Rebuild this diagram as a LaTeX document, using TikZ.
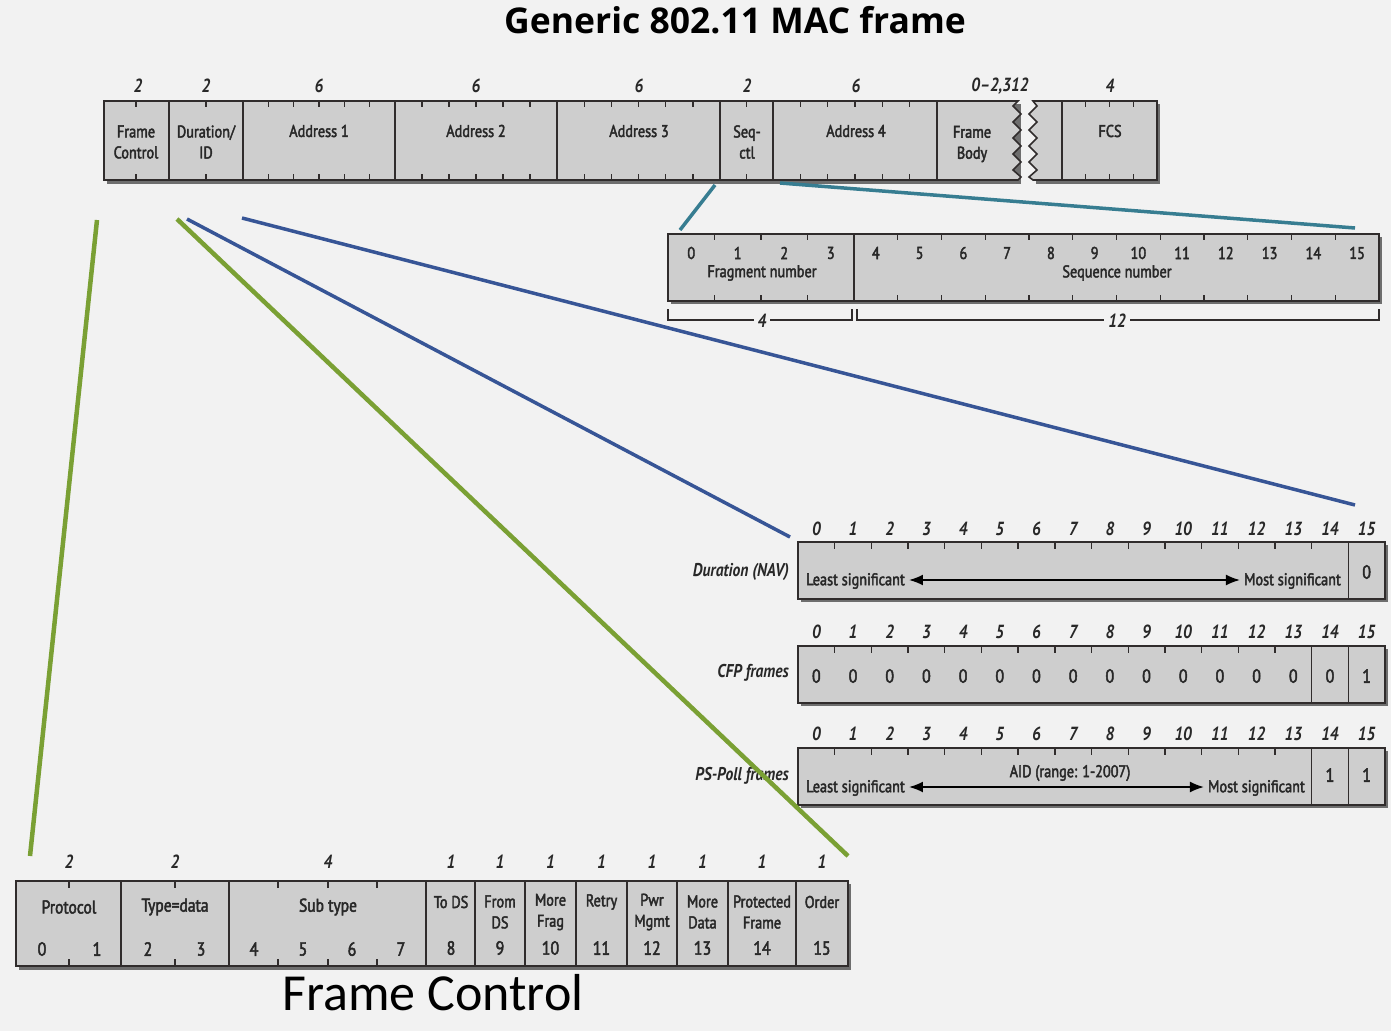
\documentclass[tikz,border=0pt]{standalone}
\usepackage{fontspec}
\usetikzlibrary{arrows.meta}
\newfontfamily\cond{PT Sans}[FakeStretch=0.84,FakeBold=2.5,Ligatures=TeX]
\newfontfamily\condi{PT Sans}[FakeStretch=0.84,Ligatures=TeX]
\newfontfamily\titlef{Open Sans}
\newfontfamily\bigf{Carlito}
\definecolor{bg}{RGB}{242,242,242}
\definecolor{boxfill}{RGB}{206,206,206}
\definecolor{boxline}{RGB}{48,44,44}
\definecolor{shade}{RGB}{110,110,110}
\definecolor{lgreen}{RGB}{122,160,52}
\definecolor{lblue}{RGB}{55,85,150}
\definecolor{lteal}{RGB}{55,125,145}
\definecolor{ink}{RGB}{40,40,40}
\tikzset{
  fld/.style={draw=boxline, fill=boxfill, line width=1.6pt},
  sep/.style={draw=boxline, line width=1.6pt},
  tk/.style={draw=boxline, line width=1.4pt},
  txt/.style={font=\cond\fontsize{17}{21}\selectfont, inner sep=0pt, align=center, text=ink},
  ftxt/.style={font=\cond\fontsize{18.5}{21}\selectfont, inner sep=0pt, align=center, text=ink},
  bigd/.style={font=\cond\fontsize{19}{21}\selectfont, inner sep=0pt, text=ink},
  bitn/.style={font=\cond\fontsize{17}{20}\selectfont, inner sep=0pt, text=ink},
  fbitn/.style={font=\cond\fontsize{19}{20}\selectfont, inner sep=0pt, text=ink},
  szn/.style={font=\condi\bfseries\itshape\fontsize{19}{20}\selectfont, inner sep=0pt, text=ink},
  rowlbl/.style={font=\condi\bfseries\itshape\fontsize{18.5}{20}\selectfont, inner sep=0pt, anchor=east, text=ink},
  shadowc/.style={fill=shade},
  bkt/.style={draw=boxline, line width=1.3pt},
  dblarrow/.style={draw=black, line width=1.8pt, {Latex[length=14pt,width=11pt]}-{Latex[length=14pt,width=11pt]}},
  gconn/.style={draw=lgreen, line width=4.5pt},
  bconn/.style={draw=lblue, line width=3.5pt},
  tconn/.style={draw=lteal, line width=3.5pt},
}
\begin{document}
\begin{tikzpicture}[x=1pt,y=-1pt]
\fill[bg] (0,0) rectangle (1391,1031);
\useasboundingbox (0,0) rectangle (1391,1031);

% title
\node[font=\titlef\bfseries\fontsize{35.5}{38}\selectfont, text=black] (title) at (735,20) {Generic 802.11 MAC frame};

% ---------------- top MAC frame ----------------
\fill[shadowc] (107,104) rectangle (1021,184);
\fill[shadowc] (1036,104) rectangle (1160,184);
\path[fld] (104,101) -- (1018,101) -- (1013,106) -- (1021,114) -- (1013,122) -- (1021,130) -- (1013,138) -- (1021,146) -- (1013,154) -- (1021,162) -- (1013,170) -- (1021,177) -- (1018,180) -- (104,180) -- cycle;
\path[fld] (1033,101) -- (1157,101) -- (1157,180) -- (1033,180) -- (1029,177) -- (1037,170) -- (1029,162) -- (1037,154) -- (1029,146) -- (1037,138) -- (1029,130) -- (1037,122) -- (1029,114) -- (1037,106) -- cycle;
\foreach \x in {169,243,395,557,720,773,937,1062} \draw[sep] (\x,101) -- (\x,180);
\foreach \x in {136,206,268.3,293.7,319,344.3,369.7,422,449,476,503,530,584.2,611.3,638.5,665.7,692.8,746.5,800.3,827.7,855,882.3,909.7,1085.75,1109.5,1133.25}
  {\draw[tk] (\x,101) -- ++(0,6); \draw[tk] (\x,180) -- ++(0,-6);}
\node[txt] (fc) at (136,142) {Frame\\Control};
\node[txt] (dur) at (206,142) {Duration/\\ID};
\node[txt] (a1) at (319,131) {Address 1};
\node[txt] (a2) at (476,131) {Address 2};
\node[txt] (a3) at (639,131) {Address 3};
\node[txt] (sc) at (747,142) {Seq-\\ctl};
\node[txt] (a4) at (856,131) {Address 4};
\node[txt] (fb) at (972,144) {Frame\\Body};
\node[txt] (fcs) at (1110,131) {FCS};
\node[szn] (s1) at (138,86) {2};
\node[szn] (s2) at (206,86) {2};
\node[szn] (s3) at (319,86) {6};
\node[szn] (s4) at (476,86) {6};
\node[szn] (s5) at (639,86) {6};
\node[szn] (s6) at (747,86) {2};
\node[szn] (s7) at (856,86) {6};
\node[szn] (s8) at (1000,86) {0–2,312};
\node[szn] (s9) at (1110,86) {4};

% ---------------- sequence control detail ----------------
\fill[shadowc] (671,237) rectangle (1382,304);
\path[fld] (668,234) rectangle (1379,301);
\draw[sep] (854,234) -- (854,301);
\foreach \k in {1,2,3} {\draw[tk] ({668+\k*46.5},234) -- ++(0,6); \draw[tk] ({668+\k*46.5},301) -- ++(0,-6);}
\foreach \k in {1,...,11} {\draw[tk] ({854+\k*43.75},234) -- ++(0,6); \draw[tk] ({854+\k*43.75},301) -- ++(0,-6);}
\foreach \k in {0,...,3} \node[bitn] (fn\k) at ({668+(\k+0.5)*46.5},253) {\k};
\foreach \k [evaluate=\k as \j using int(\k+4)] in {0,...,11} \node[bitn] (sn\k) at ({854+(\k+0.5)*43.75},253) {\j};
\node[txt] (fragn) at (762,273) {Fragment number};
\node[txt] (seqn) at (1117,273) {Sequence number};
\draw[bkt] (668,309) -- (668,320) -- (852,320) -- (852,309);
\draw[bkt] (857,309) -- (857,320) -- (1379,320) -- (1379,309);
\node[szn, fill=bg, inner xsep=4pt] (b4) at (762,321) {4};
\node[szn, fill=bg, inner xsep=4pt] (b12) at (1117,321) {12};

% ---------------- Duration / ID rows ----------------
% row 1
\fill[shadowc] (801,545) rectangle (1388,602);
\path[fld] (798,542) rectangle (1385,599);
\draw[sep] ({798+15*36.6875},542) -- ++(0,57);
\foreach \k in {1,...,14} \draw[tk] ({798+\k*36.6875},542) -- ++(0,7);
\foreach \k in {0,...,15} \node[szn] (ra\k) at ({798+(\k+0.5)*36.6875},529) {\k};
\node[rowlbl] (lnav) at (789,572) {Duration (NAV)};
\node[txt, anchor=west] (ls1) at (806,581) {Least significant};
\node[txt, anchor=east] (ms1) at (1341,581) {Most significant};
\path (ls1.east) ++(4pt,-1) coordinate (ar1a) (ms1.west) ++(-4pt,-1) coordinate (ar1b);
\draw[dblarrow] (ar1a) -- (ar1b);
\node[bigd] (z1) at ({798+15.5*36.6875},572) {0};
% row 2
\fill[shadowc] (801,649) rectangle (1388,706);
\path[fld] (798,646) rectangle (1385,703);
\draw[sep] ({798+14*36.6875},646) -- ++(0,57);
\draw[sep] ({798+15*36.6875},646) -- ++(0,57);
\foreach \k in {1,...,13} \draw[tk] ({798+\k*36.6875},646) -- ++(0,7);
\foreach \k in {0,...,15} \node[szn] (rb\k) at ({798+(\k+0.5)*36.6875},632) {\k};
\foreach \k in {0,...,14} \node[bigd] (cz\k) at ({798+(\k+0.5)*36.6875},676) {0};
\node[bigd] (co15) at ({798+15.5*36.6875},676) {1};
\node[rowlbl] (lcfp) at (789,673) {CFP frames};
% row 3
\fill[shadowc] (801,751) rectangle (1388,808);
\path[fld] (798,748) rectangle (1385,805);
\draw[sep] ({798+14*36.6875},748) -- ++(0,57);
\draw[sep] ({798+15*36.6875},748) -- ++(0,57);
\foreach \k in {1,...,13} \draw[tk] ({798+\k*36.6875},748) -- ++(0,7);
\foreach \k in {0,...,15} \node[szn] (rc\k) at ({798+(\k+0.5)*36.6875},734) {\k};
\node[rowlbl] (lps) at (789,776) {PS-Poll frames};
\node[txt, anchor=west] (ls3) at (806,788) {Least significant};
\node[txt, anchor=east] (ms3) at (1305,788) {Most significant};
\path (ls3.east) ++(4pt,-1) coordinate (ar3a) (ms3.west) ++(-4pt,-1) coordinate (ar3b);
\draw[dblarrow] (ar3a) -- (ar3b);
\node[txt] (aid) at (1070,773) {AID (range: 1-2007)};
\node[bigd] (p14) at ({798+14.5*36.6875},775) {1};
\node[bigd] (p15) at ({798+15.5*36.6875},775) {1};

% ---------------- Frame Control detail ----------------
\fill[shadowc] (19,884) rectangle (851,970);
\path[fld] (16,881) rectangle (848,966);
\foreach \x in {121,229,426,475,525,576,627,677,728,796} \draw[sep] (\x,881) -- (\x,966);
\foreach \x in {69,175,278,328,377} {\draw[tk] (\x,881) -- ++(0,7); \draw[tk] (\x,966) -- ++(0,-7);}
\node[ftxt] (proto) at (69,907) {Protocol};
\node[ftxt] (typ) at (175,907) {Type=data};
\node[ftxt] (sub) at (328,907) {Sub type};
\foreach \n/\x in {0/42,1/97,2/148,3/201,4/254,5/303,6/352,7/401}
  \node[fbitn] (fcb\n) at (\x,949) {\n};
\node[txt] (tods) at (451,902) {To DS};
\node[txt] (fromds) at (500,912) {From\\DS};
\node[txt] (mfrag) at (550.5,912) {More\\Frag};
\node[txt] (retry) at (601.5,902) {Retry};
\node[txt] (pwr) at (652,912) {Pwr\\Mgmt};
\node[txt] (mdata) at (702.5,912) {More\\Data};
\node[txt] (prot) at (762,912) {Protected\\Frame};
\node[txt] (order) at (822,902) {Order};
\foreach \n/\x in {8/451,9/500,10/550.5,11/601.5,12/652,13/702.5,14/762,15/822}
  {\node[fbitn] (fcb\n) at (\x,948) {\n}; \node[szn] (fcs\n) at (\x,862) {1};}
\node[szn] (fs0) at (69,862) {2};
\node[szn] (fs1) at (175,862) {2};
\node[szn] (fs2) at (328,862) {4};
\node[font=\bigf\fontsize{52}{56}\selectfont, text=black, inner sep=0pt] (fctitle) at (433,993) {Frame Control};

% ---------------- connectors ----------------
\coordinate (g1a) at (97,220);   \coordinate (g1b) at (30,856);
\coordinate (g2a) at (177,219);  \coordinate (g2b) at (848,856);
\coordinate (b1a) at (187,219);  \coordinate (b1b) at (790,537);
\coordinate (b2a) at (242,218);  \coordinate (b2b) at (1355,505);
\coordinate (t1a) at (715,185);  \coordinate (t1b) at (680,230);
\coordinate (t2a) at (780,183);  \coordinate (t2b) at (1355,228);
\draw[gconn] (g1a) -- (g1b);
\draw[gconn] (g2a) -- (g2b);
\draw[bconn] (b1a) -- (b1b);
\draw[bconn] (b2a) -- (b2b);
\draw[tconn] (t1a) -- (t1b);
\draw[tconn] (t2a) -- (t2b);
\end{tikzpicture}
\end{document}
